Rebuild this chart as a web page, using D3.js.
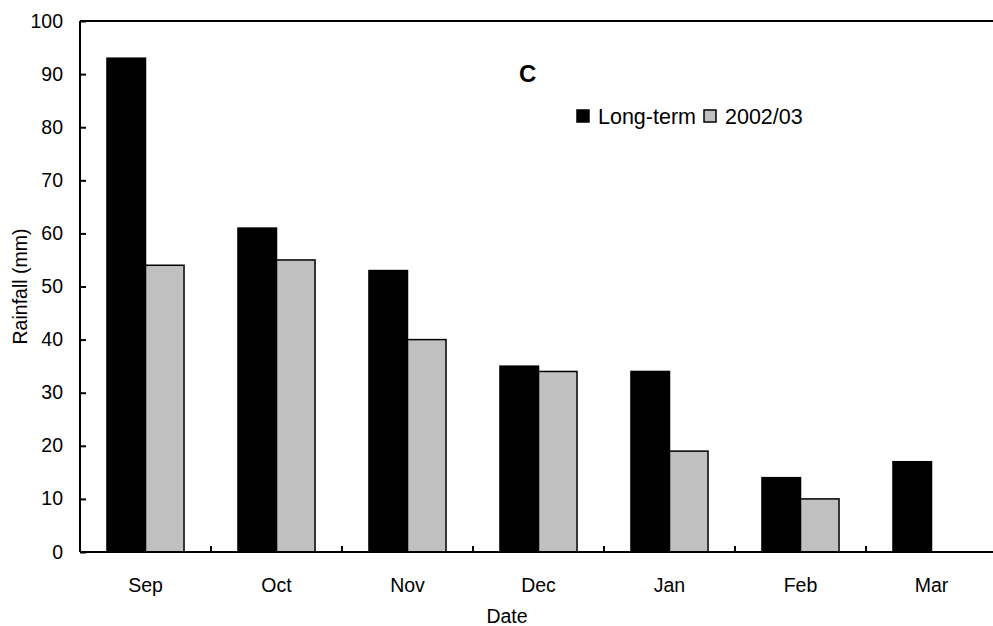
<!DOCTYPE html>
<html>
<head>
<meta charset="utf-8">
<script src="https://cdn.jsdelivr.net/npm/d3@7"></script>
<style>
  body { margin: 0; background: #fff; }
  text { font-family: Arial, "Liberation Sans", sans-serif; fill: #000; }
</style>
</head>
<body>
<svg id="chart"></svg>
<script>
const months = ['Sep', 'Oct', 'Nov', 'Dec', 'Jan', 'Feb', 'Mar'];
const longTerm = [93, 61, 53, 35, 34, 14, 17];
const season0203 = [54, 55, 40, 34, 19, 10, null];
const seriesNames = ['Long-term', '2002/03'];
const yTicks = [0, 10, 20, 30, 40, 50, 60, 70, 80, 90, 100];

const width = 993, height = 626;
const margin = { top: 21, left: 80, bottom: 74, right: -4 };

const svg = d3.select('#chart')
    .attr('width', width)
    .attr('height', height);

const xScale = d3.scaleBand()
    .domain(months)
    .range([margin.left, width - margin.right])
    .paddingInner(0)
    .paddingOuter(0);

const xInner = d3.scaleBand()
    .domain(seriesNames)
    .range([0, xScale.bandwidth()])
    .paddingOuter(0.7)
    .paddingInner(0);

const yScale = d3.scaleLinear()
    .domain([0, 100])
    .range([height - margin.bottom, margin.top]);

const colors = { 'Long-term': '#000000', '2002/03': '#c0c0c0' };

// data rows
const rows = months.map((m, i) => ({ month: m, values: [
  { key: 'Long-term', value: longTerm[i] },
  { key: '2002/03', value: season0203[i] }
]}));

// bars
const groups = svg.append('g').selectAll('g')
    .data(rows)
  .join('g')
    .attr('transform', d => `translate(${xScale(d.month)},0)`);

groups.selectAll('rect')
    .data(d => d.values.filter(v => v.value != null))
  .join('rect')
    .attr('x', d => xInner(d.key))
    .attr('y', d => yScale(d.value))
    .attr('width', xInner.bandwidth())
    .attr('height', d => yScale(0) - yScale(d.value))
    .attr('fill', d => colors[d.key])
    .attr('stroke', '#000')
    .attr('stroke-width', 1.5);

// top frame line
svg.append('line')
    .attr('x1', margin.left).attr('x2', width)
    .attr('y1', margin.top).attr('y2', margin.top)
    .attr('stroke', '#000').attr('stroke-width', 2);

// y axis (ticks inside)
const yAxis = d3.axisRight(yScale)
    .tickValues(yTicks)
    .tickSize(6)
    .tickFormat('');
const yAxisG = svg.append('g')
    .attr('transform', `translate(${margin.left},0)`)
    .call(yAxis);
yAxisG.select('.domain').attr('stroke-width', 2).attr('d', `M0,${yScale(0)}V${yScale(100)}`);
yAxisG.selectAll('.tick line').attr('stroke-width', 2);

svg.append('g').selectAll('text')
    .data(yTicks)
  .join('text')
    .attr('x', 63)
    .attr('y', d => yScale(d) + 6.5)
    .attr('text-anchor', 'end')
    .style('font-size', '19.5px')
    .text(d => d);

// x axis: category boundary ticks pointing up
const xAxisG = svg.append('g');
xAxisG.append('line')
    .attr('x1', margin.left).attr('x2', width)
    .attr('y1', yScale(0)).attr('y2', yScale(0))
    .attr('stroke', '#000').attr('stroke-width', 2);
xAxisG.selectAll('.xtick')
    .data(months.slice(1))
  .join('line')
    .attr('class', 'xtick')
    .attr('x1', d => xScale(d)).attr('x2', d => xScale(d))
    .attr('y1', yScale(0)).attr('y2', yScale(0) - 6)
    .attr('stroke', '#000').attr('stroke-width', 2);

svg.append('g').selectAll('text')
    .data(months)
  .join('text')
    .attr('x', d => xScale(d) + xScale.bandwidth() / 2)
    .attr('y', 592)
    .attr('text-anchor', 'middle')
    .style('font-size', '19.5px')
    .text(d => d);

// axis titles
svg.append('text')
    .attr('x', 507)
    .attr('y', 623)
    .attr('text-anchor', 'middle')
    .style('font-size', '19.5px')
    .text('Date');

svg.append('text')
    .attr('transform', `translate(27,${(yScale(0) + yScale(100)) / 2}) rotate(-90)`)
    .attr('text-anchor', 'middle')
    .style('font-size', '19.5px')
    .text('Rainfall (mm)');

// panel letter
svg.append('text')
    .attr('x', 519)
    .attr('y', 82)
    .style('font-size', '24px')
    .style('font-weight', 'bold')
    .text('C');

// legend
const legend = svg.append('g');
const legendItems = [
  { key: 'Long-term', x: 577 },
  { key: '2002/03', x: 704 }
];
legend.selectAll('rect')
    .data(legendItems)
  .join('rect')
    .attr('x', d => d.x)
    .attr('y', 110)
    .attr('width', 12)
    .attr('height', 12)
    .attr('fill', d => colors[d.key])
    .attr('stroke', '#000')
    .attr('stroke-width', 1.5);
legend.selectAll('text')
    .data(legendItems)
  .join('text')
    .attr('x', d => d.x + 21)
    .attr('y', 124)
    .style('font-size', '21.5px')
    .text(d => d.key);
</script>
</body>
</html>
